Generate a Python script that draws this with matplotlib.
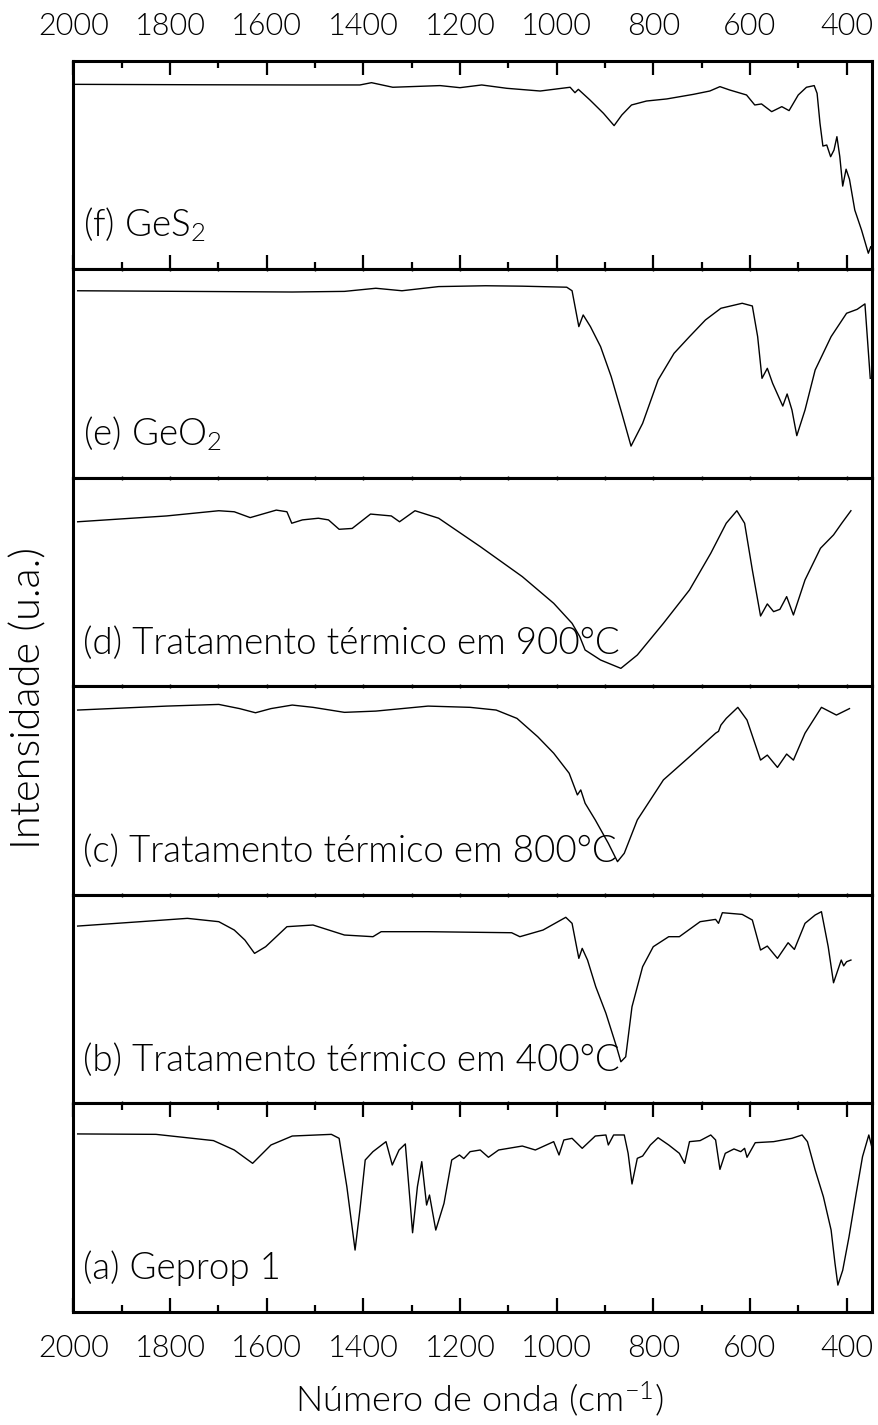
import os
import matplotlib
matplotlib.use("Agg")
import matplotlib.pyplot as plt
from matplotlib import font_manager as fm
from matplotlib.ticker import MultipleLocator

# light sans face: pick the Lato Light file itself so the weight lookup can't wander
def light_font():
    for want in ['lato-light.ttf', 'roboto-light.ttf', 'opensans-light.ttf']:
        for f in fm.fontManager.ttflist:
            if os.path.basename(f.fname).lower() == want:
                return f.fname
    return fm.findfont('DejaVu Sans')

FONT = light_font()
plt.rcParams['mathtext.default'] = 'regular'

def fp(size):
    return fm.FontProperties(fname=FONT, size=size)

# spectra: wavenumber (cm-1) and intensity (a.u., 0-100 per panel)
wn_f = [1996, 1738, 1531, 1407, 1383, 1339, 1241, 1200, 1155, 1103, 1034, 972, 962, 955,
        931, 903, 881, 865, 845, 814, 772, 717, 683, 662, 642, 607, 590, 576, 555, 534,
        519, 500, 483, 467, 461, 455, 449, 441, 433, 426, 420, 414, 408, 401, 394, 383,
        369, 355, 350]
int_f = [88.8, 88.6, 88.5, 88.5, 89.6, 87.4, 88.2, 87.2, 88.5, 86.9, 85.6, 87.4, 84.8, 86.4,
         81.3, 74.9, 69.0, 74.1, 78.9, 80.8, 81.8, 84.0, 85.6, 87.7, 86.1, 83.7, 78.9, 79.4,
         75.7, 78.1, 76.2, 83.7, 87.4, 88.2, 84.5, 70.1, 59.2, 59.7, 54.1, 57.3, 63.7, 54.1,
         40.0, 48.1, 43.3, 28.5, 18.9, 7.8, 10.9]

wn_e = [1991, 1547, 1439, 1374, 1320, 1244, 1147, 1071, 979, 968, 954, 945, 930, 909,
        887, 865, 846, 822, 790, 757, 725, 692, 660, 616, 595, 584, 575, 564, 553, 532,
        523, 513, 503, 486, 465, 432, 400, 378, 362, 351]
int_e = [89.8, 89.2, 89.5, 91.0, 89.8, 91.8, 92.2, 92.0, 91.5, 89.8, 72.6, 78.2, 72.6, 63.0,
         48.6, 31.0, 15.3, 26.2, 47.0, 59.8, 67.8, 75.8, 81.4, 83.8, 82.5, 67.8, 47.8, 52.6,
         45.4, 34.5, 40.3, 32.6, 20.3, 32.6, 51.8, 67.8, 79.0, 80.9, 83.5, 47.8]

wn_d = [1991, 1807, 1699, 1667, 1634, 1580, 1558, 1548, 1526, 1493, 1472, 1450, 1423,
        1385, 1342, 1325, 1293, 1244, 1158, 1071, 1006, 968, 952, 941, 909, 867, 833,
        779, 725, 681, 649, 627, 611, 595, 578, 564, 551, 538, 524, 510, 486, 454, 427,
        410, 391]
int_d = [79.0, 81.8, 84.3, 83.8, 81.0, 84.6, 83.8, 78.3, 79.9, 80.7, 79.9, 75.4, 75.8,
         82.7, 81.8, 79.0, 84.3, 80.7, 67.1, 52.7, 39.9, 30.3, 23.9, 17.5, 12.7, 8.7, 15.1,
         30.3, 46.3, 63.9, 78.3, 84.3, 78.3, 55.9, 33.8, 39.6, 35.9, 37.0, 43.1, 34.3, 51.1,
         66.3, 72.7, 78.3, 84.3]

wn_c = [1991, 1807, 1699, 1656, 1623, 1591, 1547, 1504, 1439, 1374, 1320, 1266, 1179,
        1125, 1082, 1039, 1006, 974, 957, 950, 941, 920, 893, 874, 860, 833, 779, 725,
        671, 665, 660, 649, 625, 606, 578, 564, 543, 524, 510, 486, 452, 421, 394]
int_c = [88.7, 90.6, 91.4, 89.4, 87.4, 89.4, 91.1, 90.0, 87.6, 88.2, 89.4, 90.6, 90.0,
         88.7, 84.7, 75.9, 68.0, 58.4, 48.0, 50.4, 44.0, 36.0, 24.8, 16.0, 20.0, 36.0, 55.2,
         66.3, 77.6, 78.5, 81.5, 84.7, 90.0, 83.9, 64.7, 67.1, 61.2, 67.6, 64.7, 77.6, 90.0,
         86.3, 89.4]

wn_b = [1991, 1861, 1764, 1699, 1667, 1645, 1625, 1602, 1558, 1504, 1439, 1380, 1363,
        1266, 1093, 1076, 1028, 981, 968, 954, 947, 936, 919, 898, 876, 867, 857, 844,
        822, 800, 768, 746, 703, 671, 665, 657, 616, 595, 578, 564, 543, 521, 508, 486,
        465, 452, 438, 427, 411, 406, 400, 391]
int_b = [85.1, 87.2, 88.8, 87.2, 83.2, 78.4, 72.0, 75.2, 84.8, 85.6, 80.8, 80.0, 82.4,
         82.4, 81.9, 80.0, 83.2, 89.3, 86.4, 69.6, 74.4, 68.8, 56.0, 43.3, 27.2, 20.0, 22.4,
         46.4, 65.6, 75.2, 80.0, 80.0, 87.2, 88.3, 86.4, 91.5, 90.7, 88.0, 73.6, 75.5, 69.6,
         77.1, 73.9, 86.4, 90.4, 92.0, 75.2, 57.9, 68.8, 66.0, 68.0, 68.8]

wn_a = [1991, 1829, 1710, 1667, 1629, 1591, 1547, 1466, 1450, 1434, 1417, 1407, 1396,
        1380, 1353, 1340, 1326, 1313, 1304, 1298, 1288, 1279, 1269, 1263, 1250, 1233,
        1217, 1201, 1192, 1179, 1158, 1141, 1120, 1071, 1044, 1006, 995, 985, 968, 947,
        920, 898, 893, 882, 860, 852, 844, 833, 822, 806, 790, 768, 746, 735, 725, 703,
        681, 671, 662, 651, 633, 619, 611, 606, 589, 551, 513, 492, 481, 465, 448, 432,
        424, 418, 408, 395, 380, 367, 354, 348]
int_a = [85.4, 85.2, 82.2, 77.7, 71.3, 80.1, 84.4, 85.2, 83.3, 60.1, 29.7, 48.9, 72.9,
         76.9, 81.7, 70.5, 77.7, 80.6, 55.3, 38.0, 60.1, 72.1, 51.3, 56.1, 39.3, 52.1,
         72.9, 75.3, 73.6, 76.9, 77.7, 74.2, 77.7, 79.6, 77.7, 81.7, 75.3, 82.5, 83.3, 78.5,
         84.4, 84.9, 80.1, 84.9, 84.9, 76.1, 61.4, 73.7, 74.8, 80.1, 83.6, 80.1, 76.1, 71.3,
         81.7, 82.2, 84.9, 82.5, 68.4, 76.1, 78.2, 76.9, 78.5, 74.2, 81.2, 81.7, 83.3, 84.9,
         81.7, 68.1, 55.3, 39.3, 23.4, 12.9, 20.0, 36.0, 57.0, 74.5, 84.9, 79.3]

spectra = [(wn_f, int_f), (wn_e, int_e), (wn_d, int_d),
           (wn_c, int_c), (wn_b, int_b), (wn_a, int_a)]
labels = ["(f) GeS$_2$", "(e) GeO$_2$", "(d) Tratamento térmico em 900°C",
          "(c) Tratamento térmico em 800°C", "(b) Tratamento térmico em 400°C",
          "(a) Geprop 1"]

fig, axes = plt.subplots(6, 1, figsize=(8.79, 14.25), dpi=100, sharex=True,
                         gridspec_kw=dict(hspace=0))
fig.subplots_adjust(left=0.0834, right=0.9917, top=0.9572, bottom=0.0793)

for i, ax in enumerate(axes):
    wn, inten = spectra[i]
    ax.plot(wn, inten, color='black', lw=1.0)
    ax.set_ylim(0, 100)
    ax.set_xlim(2000, 348)
    ax.set_yticks([])
    for s in ax.spines.values():
        s.set_linewidth(2.2)
    ax.xaxis.set_major_locator(MultipleLocator(200))
    ax.xaxis.set_minor_locator(MultipleLocator(100))
    ax.tick_params(axis='x', which='both', direction='in', top=True, bottom=True,
                   labelbottom=False, labeltop=False, length=1.5, width=1.0)
    ax.text(0.012, 0.157, labels[i], transform=ax.transAxes, fontproperties=fp(26.5),
            va='baseline', ha='left')

# outer ticks and labels
top, bot = axes[0], axes[-1]
top.tick_params(axis='x', which='major', top=True, labeltop=True, length=10, width=1.6,
                pad=14.5)
top.tick_params(axis='x', which='minor', top=True, length=5, width=1.6)
bot.tick_params(axis='x', which='major', bottom=True, labelbottom=True, length=10, width=1.6,
                pad=16)
bot.tick_params(axis='x', which='minor', bottom=True, length=5, width=1.6)
for ax in (top, bot):
    for lbl in ax.get_xticklabels():
        lbl.set_fontproperties(fp(22))

fig.text(0.545, 1 - 1411.7 / 1425, "Número de onda (cm$^{-1}$)", fontproperties=fp(26),
         ha='center', va='baseline')
fig.text(0.033, 0.5105, "Intensidade (u.a.)", rotation=90, fontproperties=fp(30),
         ha='center', va='center')

fig.savefig("out.png", dpi=100)
